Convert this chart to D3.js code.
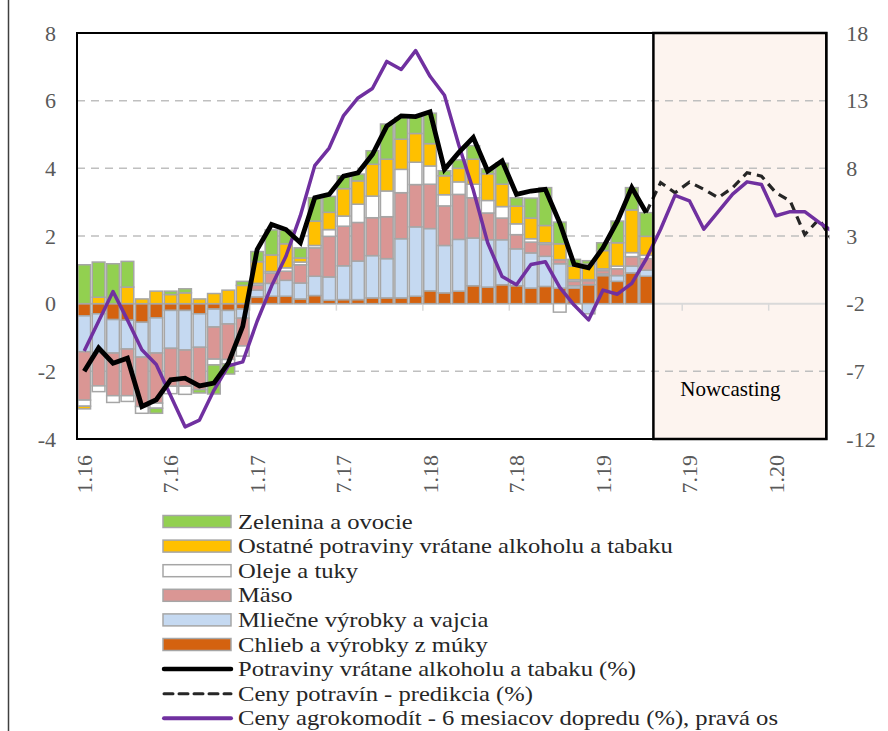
<!DOCTYPE html>
<html><head><meta charset="utf-8">
<script src="https://cdn.jsdelivr.net/npm/d3@7"></script>
</head>
<body>
<svg id="c" width="888" height="731"></svg>
<script>
// ---- data ----
const months = d3.range(53).map(i => `${i % 12 + 1}.${16 + Math.floor(i / 12)}`); // 1.16 ... 5.20
const barMonths = months.slice(0, 40); // 1.16 ... 4.19
const tickMonths = ["1.16","7.16","1.17","7.17","1.18","7.18","1.19","7.19","1.20"];
const leftTicks = [-4,-2,0,2,4,6,8];
const rightTicks = [-12,-7,-2,3,8,13,18];
const gridValues = [-2,2,4,6];

const chlieb = [-0.36,-0.3,-0.47,-0.49,-0.55,-0.42,-0.2,-0.2,-0.3,-0.16,-0.2,-0.16,0.2,0.22,0.22,0.14,0.24,0.1,0.12,0.12,0.17,0.17,0.17,0.22,0.38,0.32,0.37,0.53,0.49,0.56,0.53,0.46,0.51,0.46,0.46,0.56,0.83,0.66,0.91,0.81];
const mliecne = [-1.06,-1.16,-0.99,-0.85,-1.03,-1.04,-1.12,-1.17,-0.99,-0.53,-0.4,-0.27,0.2,0.38,0.47,0.47,0.57,0.69,1.0,1.14,1.25,1.16,1.75,2.05,1.84,1.4,1.53,1.41,1.4,1.33,1.09,1.04,0.89,0.72,0.07,-0.3,0.05,0.17,0.2,0.18];
const maso = [-1.43,-0.97,-1.26,-1.38,-1.46,-1.48,-1.12,-1.07,-1.25,-0.95,-1.05,-0.82,0.15,0.3,0.27,0.54,0.84,1.2,1.17,1.14,1.12,1.24,1.36,1.25,1.31,1.17,1.33,1.19,0.79,0.64,0.42,0.32,0.35,0.12,0.13,0.12,0.1,0.2,0.28,0.34];
const oleje = [-0.18,-0.17,-0.2,-0.17,-0.2,-0.15,-0.22,-0.24,0,-0.17,-0.13,-0.3,0.05,0.05,0.1,0.08,0.07,0.2,0.3,0.54,0.64,0.76,0.69,0.66,0.54,0.33,0.37,0.4,0.37,0.34,0.32,0.1,0.05,-0.25,0.05,0.03,0.05,0.08,0.12,0.1];
const ostatne = [-0.08,0.19,0,0.49,0.14,0.37,0.27,0.32,0.14,0.3,0.4,0.54,0.64,0.49,0.71,0.12,0.72,0.51,0.81,0.69,0.94,0.94,0.89,0.85,0.66,0.56,0.4,0.74,0.79,0.66,0.52,0.61,0.51,0.47,0.4,0.46,0.54,0.69,1.26,0.56];
const zelenina = [1.15,1.04,1.18,0.76,0,-0.15,0.1,0.12,-0.1,-0.86,-0.3,0.12,0.3,0.74,0.4,0.3,0.69,0.47,0.38,0.2,0.4,1.04,0.64,0.51,0.9,0.15,0.25,0.4,0.15,0.62,0.25,0.59,1.12,0.64,0.2,0.1,0.23,0.64,0.66,0.7];

const potraviny = [-2.0,-1.31,-1.76,-1.61,-3.04,-2.84,-2.25,-2.2,-2.43,-2.35,-1.76,-0.67,1.6,2.34,2.19,1.8,3.13,3.23,3.77,3.87,4.41,5.25,5.55,5.53,5.67,3.97,4.47,4.91,3.92,4.22,3.23,3.33,3.38,2.39,1.16,1.06,1.65,2.44,3.43,2.69];
const predMonths = months.slice(39); // 4.19 ... 5.20
const predikcia = [2.69,3.58,3.28,3.59,3.38,3.13,3.43,3.87,3.77,3.28,3.03,2.04,2.5,1.8];
const agro = [-5.5,-3.3,-1.1,-3.2,-5.4,-6.5,-8.8,-11.1,-10.6,-8.4,-6.6,-6.3,-3.3,-0.7,1.5,4.5,8.2,9.5,11.9,13.2,13.9,15.9,15.3,16.7,14.8,13.4,9.7,6.4,2.5,0.0,-0.6,0.9,1.1,-0.8,-2.1,-3.2,-1.0,-1.3,-0.5,1.3,3.5,6.0,5.6,3.5,4.8,6.1,7.0,6.8,4.5,4.8,4.8,4.0,3.3];

const seriesNames = ["Zelenina a ovocie","Ostatné potraviny vrátane alkoholu a tabaku","Oleje a tuky","Mäso","Mliečne výrobky a vajcia","Chlieb a výrobky z múky"];
const lineNames = ["Potraviny vrátane alkoholu a tabaku (%)","Ceny potravín - predikcia (%)","Ceny agrokomodít - 6 mesiacov dopredu (%), pravá os"];
const nowcastStart = "5.19", nowcastEnd = "5.20";

// ---- styles ----
document.body.style.margin = "0";
const colors = {chlieb:"#D4620F", mliecne:"#C5D9F1", maso:"#DA9694", oleje:"#FFFFFF", ostatne:"#FFC000", zelenina:"#92D050"};
const FF = '"Liberation Serif"';
const ser = sel => sel.attr("font-family", "Liberation Serif").style("font-family", FF);
const L = 77, T = 33, B = 439, step = 14.41;

const svg = d3.select("#c").style("display", "block");
const x = d3.scaleBand().domain(months).range([L, L + step * months.length]).padding(0);
const R = x(nowcastEnd);
const yL = d3.scaleLinear().domain([-4, 8]).range([B, T]);
const yR = d3.scaleLinear().domain([-12, 18]).range([B, T]);

// outer left border
svg.append("line").attr("x1", 8.5).attr("x2", 8.5).attr("y1", 0).attr("y2", 731).attr("stroke", "#404040").attr("stroke-width", 1.5);

// nowcasting box fill
svg.append("rect").attr("x", x(nowcastStart)).attr("y", T).attr("width", R - x(nowcastStart)).attr("height", B - T)
  .attr("fill", "#FDF4EF");

// grid
svg.append("g").selectAll("line").data(gridValues).join("line")
  .attr("x1", L).attr("x2", R).attr("y1", d => yL(d)).attr("y2", d => yL(d))
  .attr("stroke", "#BFBFBF").attr("stroke-width", 1.5).attr("stroke-dasharray", "8,6");

// zero axis line + ticks
svg.append("line").attr("x1", L).attr("x2", R).attr("y1", yL(0)).attr("y2", yL(0)).attr("stroke", "#D9D9D9").attr("stroke-width", 2);
svg.append("g").selectAll("line").data(tickMonths.slice(1)).join("line")
  .attr("x1", d => x(d)).attr("x2", d => x(d)).attr("y1", yL(0)).attr("y2", yL(0) + 7)
  .attr("stroke", "#D9D9D9").attr("stroke-width", 1.5);

// bars
const keys = ["chlieb","mliecne","maso","oleje","ostatne","zelenina"];
const src = {chlieb, mliecne, maso, oleje, ostatne, zelenina};
const table = barMonths.map((m, i) => { const o = {m}; keys.forEach(k => o[k] = src[k][i]); return o; });
const stacked = d3.stack().keys(keys).offset(d3.stackOffsetDiverging)(table);
const bw = x.bandwidth() * 0.88;
svg.append("g").selectAll("g").data(stacked).join("g").attr("fill", d => colors[d.key])
  .selectAll("rect").data(d => d.filter(p => p[1] - p[0] !== 0)).join("rect")
  .attr("x", d => x(d.data.m) + (x.bandwidth() - bw) / 2).attr("width", bw)
  .attr("y", d => yL(Math.max(d[0], d[1]))).attr("height", d => Math.abs(yL(d[0]) - yL(d[1])))
  .attr("stroke", "#A6A6A6").attr("stroke-width", 1.5);

// clip for lines
svg.append("clipPath").attr("id", "clip").append("rect").attr("x", L).attr("y", T - 5).attr("width", R - L + 3).attr("height", B - T + 10);

const cx = d => x(d) + x.bandwidth() / 2;
const lineG = svg.append("g").attr("clip-path", "url(#clip)");
lineG.append("path").datum(predikcia.map((v, i) => [predMonths[i], v]))
  .attr("d", d3.line().x(d => cx(d[0])).y(d => yL(d[1])))
  .attr("fill", "none").attr("stroke", "#262626").attr("stroke-width", 3.2).attr("stroke-dasharray", "9,6");
lineG.append("path").datum(agro.map((v, i) => [months[i], v]))
  .attr("d", d3.line().x(d => cx(d[0])).y(d => yR(d[1])))
  .attr("fill", "none").attr("stroke", "#7030A0").attr("stroke-width", 3.5).attr("stroke-linejoin", "round");
lineG.append("path").datum(potraviny.map((v, i) => [barMonths[i], v]))
  .attr("d", d3.line().x(d => cx(d[0])).y(d => yL(d[1])))
  .attr("fill", "none").attr("stroke", "#000").attr("stroke-width", 4.8).attr("stroke-linejoin", "miter");

// frames
svg.append("rect").attr("x", L).attr("y", T).attr("width", R - L).attr("height", B - T).attr("fill", "none").attr("stroke", "#000").attr("stroke-width", 2);
svg.append("rect").attr("x", x(nowcastStart)).attr("y", T).attr("width", R - x(nowcastStart)).attr("height", B - T)
  .attr("fill", "none").attr("stroke", "#000").attr("stroke-width", 2.5);
svg.append("text").attr("x", x(nowcastStart) + 77).attr("y", 396).attr("text-anchor", "middle")
  .attr("font-size", 21).attr("fill", "#000").call(ser).text("Nowcasting");

// axes
const fmt = d => String(d);
const axL = svg.append("g").attr("transform", `translate(${L},0)`)
  .call(d3.axisLeft(yL).tickValues(leftTicks).tickSize(0).tickPadding(21).tickFormat(fmt));
const axR = svg.append("g").attr("transform", `translate(${R},0)`)
  .call(d3.axisRight(yR).tickValues(rightTicks).tickSize(0).tickPadding(20).tickFormat(fmt));
[axL, axR].forEach(a => {
  a.attr("font-family", "Liberation Serif").attr("font-size", 22);
  a.select(".domain").remove();
  a.selectAll("text").attr("font-size", 22).attr("fill", "#595959").call(ser);
});

svg.append("g").selectAll("text").data(tickMonths).join("text")
  .attr("transform", d => `translate(${cx(d)},455) rotate(-90)`).attr("text-anchor", "end").attr("dy", "0.35em")
  .attr("font-size", 22).attr("fill", "#595959").call(ser).text(d => d);

// legend
const lg = svg.append("g");
const ly0 = 521.5, ld = 24.6;
const legColors = [colors.zelenina, colors.ostatne, colors.oleje, colors.maso, colors.mliecne, colors.chlieb];
seriesNames.forEach((n, i) => {
  const yy = ly0 + i * ld;
  lg.append("rect").attr("x", 163).attr("y", yy - 6).attr("width", 68).attr("height", 12).attr("fill", legColors[i]).attr("stroke", "#A6A6A6").attr("stroke-width", 1.5);
});
const lineStyles = [{c:"#000", w:4.5, da:null}, {c:"#262626", w:3, da:"9,6"}, {c:"#7030A0", w:4, da:null}];
lineNames.forEach((n, i) => {
  const yy = ly0 + (6 + i) * ld;
  const l = lg.append("line").attr("x1", 164).attr("x2", 231).attr("y1", yy).attr("y2", yy).attr("stroke", lineStyles[i].c).attr("stroke-width", lineStyles[i].w).attr("stroke-linecap", "round");
  if (lineStyles[i].da) l.attr("stroke-dasharray", lineStyles[i].da);
});
seriesNames.concat(lineNames).forEach((n, i) => {
  lg.append("g").attr("transform", `translate(238,${ly0 + i * ld}) scale(1.2,1)`)
    .append("text").attr("dy", "0.35em").attr("font-size", 20.5).attr("fill", "#262626").call(ser).text(n);
});
</script>
</body></html>
